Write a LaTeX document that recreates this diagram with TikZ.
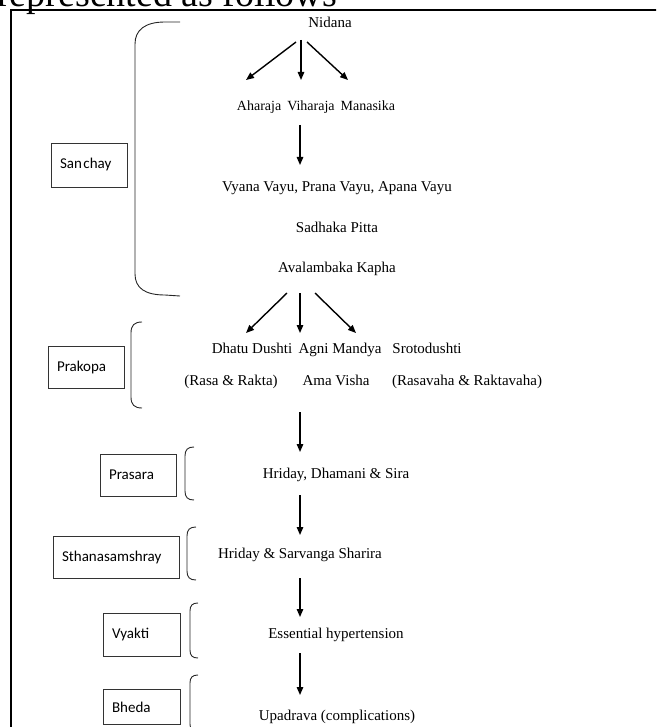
\documentclass[tikz,border=0pt]{standalone}
\usepackage{fontspec}
\setmainfont{Liberation Serif}
\newfontfamily\stagefont{Carlito}
\usetikzlibrary{arrows.meta}
\newcommand{\Txt}{\fontsize{15}{18}\selectfont}
% side bracket: x, top, bottom, stub
\newcommand{\SideBrack}[4]{%
  \draw[brk] ({#1+#4},#2) .. controls ({#1+0.3*#4},#2) and (#1,{#2+0.3*#4}) .. (#1,{#2+#4})
    -- (#1,{#3-#4}) .. controls (#1,{#3-0.3*#4}) and ({#1+0.3*#4},#3) .. ({#1+#4},#3);}

\begin{document}
\begin{tikzpicture}[x=1pt,y=-1pt,
  txt/.style={inner sep=0pt,anchor=base,font=\Txt},
  stage/.style={draw=black!80,line width=0.8pt,inner xsep=9pt,inner ysep=0pt,align=left,font=\stagefont\Txt},
  flow/.style={line width=1.4pt,-{Triangle[length=8pt,width=6.5pt]}},
  brk/.style={line width=0.9pt,black!85}]
\useasboundingbox (0,0) rectangle (656,727);
\clip (0,0) rectangle (656,727);

% page text and frame
\node[anchor=base west,inner sep=0pt,font=\fontsize{38}{40}\selectfont] (heading) at (-3,7) {represented as follows};
\draw[line width=1.3pt] (11,740) -- (11,10) -- (670,10);

% stages
\node[stage,text width=58pt,minimum height=44pt] (sanchay) at (89,165) {San\hspace{1.5pt}chay};
\node[stage,text width=58pt,minimum height=42pt] (prakopa) at (86,367) {Prakopa};
\node[stage,text width=58pt,minimum height=42pt] (prasara) at (138,475) {Prasara};
\node[stage,text width=108pt,minimum height=42pt] (sthana) at (116,557) {Sthanasamshray};
\node[stage,text width=59pt,minimum height=43pt] (vyakti) at (141.5,634.5) {Vyakti};
\node[stage,text width=59pt,minimum height=35pt] (bheda) at (141.5,707) {Bheda};

% brackets
\draw[brk] (180,22) -- (165,22) .. controls (145,22) and (135,30) .. (135,44)
  -- (135,274) .. controls (135,288) and (145,295) .. (165,295) -- (180,296);
\SideBrack{131}{322}{408}{11}
\SideBrack{185}{447}{500}{9}
\SideBrack{187}{527}{580}{9}
\SideBrack{190}{603}{658}{8}
\SideBrack{190}{675}{732}{8}

% texts
\node[txt] (nidana) at (330,28) {Nidana};
\node[txt,font=\fontsize{14}{17}\selectfont] (causes) at (316,111) {Aharaja\hspace{6pt}Viharaja\hspace{6pt}Manasika};
\node[txt] (vayu) at (337,192) {Vyana Vayu, Prana Vayu, Apana Vayu};
\node[txt] (pitta) at (337,232) {Sadhaka Pitta};
\node[txt] (kapha) at (337,272) {Avalambaka Kapha};
\node[txt] (dhatu) at (252,353) {Dhatu Dushti};
\node[txt] (agni) at (340,353) {Agni Mandya};
\node[txt] (sroto) at (427,353) {Srotodushti};
\node[txt] (rasa) at (231,385) {(Rasa \& Rakta)};
\node[txt] (ama) at (336,385) {Ama Visha};
\node[txt] (rasavaha) at (467,385) {(Rasavaha \& Raktavaha)};
\node[txt] (dhamani) at (336,478) {Hriday, Dhamani \& Sira};
\node[txt] (sarvanga) at (300,558) {Hriday \& Sarvanga Sharira};
\node[txt] (essential) at (336,638) {Essential hypertension};
\node[txt] (upadrava) at (337,720) {Upadrava (complications)};

% arrows
\coordinate (nidL) at (296,42);  \coordinate (ahaL) at (246,80);
\coordinate (nidM) at (301,40);  \coordinate (ahaM) at (301,80);
\coordinate (nidR) at (307,42);  \coordinate (ahaR) at (348,80);
\coordinate (kapL) at (287,293); \coordinate (dhaL) at (246,333);
\coordinate (kapM) at (300,293); \coordinate (dhaM) at (300,333);
\coordinate (kapR) at (315,293); \coordinate (dhaR) at (356,333);
\foreach \s in {L,M,R}{
  \draw[flow] (nid\s) -- (aha\s);
  \draw[flow] (kap\s) -- (dha\s);
}
\foreach \n/\a/\b in {1/125/165,2/412/452,3/495/535,4/578/617,5/653/695}{
  \coordinate (down\n a) at (300,\a);
  \coordinate (down\n b) at (300,\b);
  \draw[flow] (down\n a) -- (down\n b);
}
\end{tikzpicture}
\end{document}
